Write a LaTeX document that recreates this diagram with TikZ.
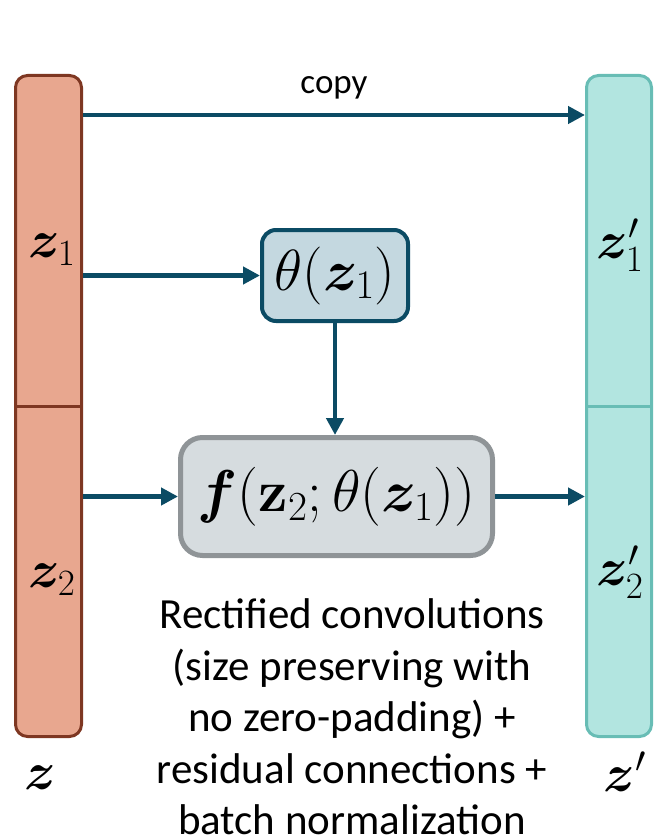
\RequirePackage{fix-cm}
\documentclass[tikz,border=0pt]{standalone}
\usepackage{amsmath}
\usepackage{bm}
\usepackage[no-math]{fontspec}
\setmainfont{Carlito}
\usetikzlibrary{arrows.meta}

\definecolor{brownedge}{HTML}{7E3722}
\definecolor{brownfill}{HTML}{E8A78F}
\definecolor{tealedge}{HTML}{68BDB5}
\definecolor{tealfill}{HTML}{B2E5E0}
\definecolor{arrowcol}{HTML}{0B4B64}
\definecolor{thetafill}{HTML}{C4D8E0}
\definecolor{ffill}{HTML}{D6DCDF}
\definecolor{fedge}{HTML}{8F9497}

\tikzset{
  barz/.style={draw=brownedge, fill=brownfill, line width=3pt, rounded corners=12pt,
    minimum width=66pt, minimum height=661pt, inner sep=0pt},
  barzp/.style={draw=tealedge, fill=tealfill, line width=3pt, rounded corners=12pt,
    minimum width=65pt, minimum height=661pt, inner sep=0pt},
  thetabox/.style={draw=arrowcol, fill=thetafill, line width=4pt, rounded corners=14pt,
    minimum width=146pt, minimum height=91pt, inner sep=0pt},
  fbox/.style={draw=fedge, fill=ffill, line width=5pt, rounded corners=22pt,
    minimum width=312pt, minimum height=118pt, inner sep=0pt},
  conn/.style={draw=arrowcol, line width=4.5pt,
    -{Triangle[length=17pt,width=17pt]}},
  mlabel/.style={inner sep=0pt, font=\fontsize{53}{62}\selectfont},
  btext/.style={align=center, inner sep=0pt, font=\fontsize{43}{51.5}\selectfont},
}

\begin{document}
\begin{tikzpicture}[x=1pt, y=-1pt]
\useasboundingbox (0,0) rectangle (654,840);

% the two stacked vectors
\node[barz]  (zbar)  at (48.5,406) {};
\node[barzp] (zpbar) at (619,406) {};
\draw[brownedge, line width=3pt] (zbar.west) -- (zbar.east);
\draw[tealedge, line width=3pt] (zpbar.west) -- (zpbar.east);

% labels on the vectors
\node[mlabel] (z1)  at (52,250)  {$\bm{z}_1$};
\node[mlabel] (z2)  at (52,580)  {$\bm{z}_2$};
\node[mlabel] (z1p) at (620,245) {$\bm{z}_1'$};
\node[mlabel] (z2p) at (620,572) {$\bm{z}_2'$};
\node[mlabel] (zl)  at (40,778)  {$\bm{z}$};
\node[mlabel] (zpl) at (625,772) {$\bm{z}'$};

% conditioner and coupling function
\node[thetabox] (theta) at (335,275.5) {\fontsize{58}{66}\selectfont$\theta(\bm{z}_1)$};
\node[fbox] (f) at (336.5,496.5) {\fontsize{59}{66}\selectfont$\bm{f}(\mathbf{z}_2;\theta(\bm{z}_1))$};

% connectors
\coordinate (copyrow) at (0,115);
\draw[conn] (zbar.east |- copyrow) -- (zpbar.west |- copyrow)
  node[midway, above=14pt, inner sep=0pt, font=\fontsize{35}{40}\selectfont, text=black] (copylbl) {copy};
\draw[conn] (zbar.east |- theta.west) -- (theta.west);
\draw[conn] (theta.south) -- (f.north -| theta.south);
\draw[conn] (zbar.east |- f.west) -- (f.west);
\draw[conn] (f.east) -- (zpbar.west |- f.east);

% description
\node[btext] (desc) at (352,717) {Rectified convolutions\\(size preserving with\\no zero-padding) +\\residual connections +\\batch normalization};
\end{tikzpicture}
\end{document}
